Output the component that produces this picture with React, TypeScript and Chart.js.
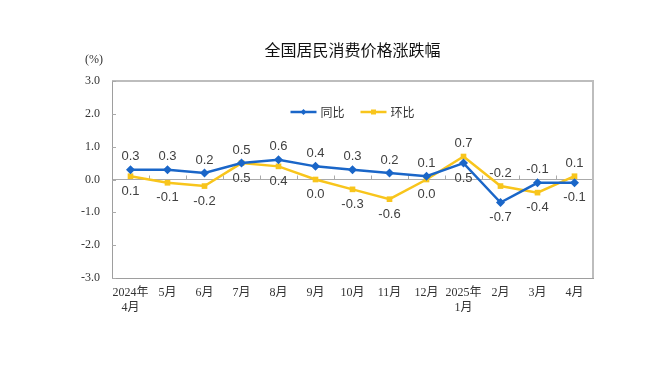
import React, { useEffect, useRef } from "react";
import { Chart, registerables } from "chart.js";

Chart.register(...registerables);

const categories: (string | string[])[] = [
  ["2024年", "4月"], "5月", "6月", "7月", "8月", "9月", "10月", "11月", "12月",
  ["2025年", "1月"], "2月", "3月", "4月",
];
const yoyValues = [0.3, 0.3, 0.2, 0.5, 0.6, 0.4, 0.3, 0.2, 0.1, 0.5, -0.7, -0.1, -0.1];
const momValues = [0.1, -0.1, -0.2, 0.5, 0.4, 0.0, -0.3, -0.6, 0.0, 0.7, -0.2, -0.4, 0.1];
const yTicks = [-3, -2, -1, 0, 1, 2, 3];
const seriesNames = ["同比", "环比"];
const titleText = "全国居民消费价格涨跌幅";
const unitText = "(%)";

const BLUE = "#1A66C8";
const YELLOW = "#F8C51C";
const SANS = "'Liberation Sans', 'Noto Sans CJK SC', sans-serif";
const SERIF = "'Liberation Serif', 'Noto Sans CJK SC', serif";
const CJK = "'Noto Sans CJK SC', sans-serif";

const decorPlugin = {
  id: "decor",
  beforeDatasetsDraw(chart: any) {
    const { ctx, chartArea, scales } = chart;
    const x = scales.x;
    const y = scales.y;
    ctx.save();
    // top & right frame
    ctx.strokeStyle = "#BDBDBD";
    ctx.lineWidth = 2;
    ctx.beginPath();
    ctx.moveTo(chartArea.left, chartArea.top);
    ctx.lineTo(chartArea.right, chartArea.top);
    ctx.lineTo(chartArea.right, chartArea.bottom);
    ctx.stroke();
    // zero line ticks at category boundaries
    const y0 = y.getPixelForValue(0);
    ctx.strokeStyle = "#AAAAAA";
    ctx.lineWidth = 1;
    ctx.beginPath();
    for (let i = 1; i < categories.length; i++) {
      const bx = Math.round((x.getPixelForValue(i - 1) + x.getPixelForValue(i)) / 2) + 0.5;
      ctx.moveTo(bx, y0);
      ctx.lineTo(bx, y0 - 4);
    }
    // inward y ticks
    yTicks.forEach((v) => {
      const py = Math.round(y.getPixelForValue(v)) + 0.5;
      ctx.moveTo(chartArea.left, py);
      ctx.lineTo(chartArea.left + 4, py);
    });
    ctx.stroke();
    // unit text
    ctx.fillStyle = "#333";
    ctx.font = `12px ${SERIF}`;
    ctx.textAlign = "center";
    ctx.textBaseline = "middle";
    ctx.fillText(unitText, chartArea.left - 18, chartArea.top - 21);
    ctx.restore();
  },
  afterDatasetsDraw(chart: any) {
    const { ctx, chartArea } = chart;
    ctx.save();
    ctx.font = `13px ${SANS}`;
    ctx.fillStyle = "#404040";
    ctx.textAlign = "center";
    ctx.textBaseline = "middle";
    const all = [yoyValues, momValues];
    chart.data.datasets.forEach((ds: any, di: number) => {
      const meta = chart.getDatasetMeta(di);
      meta.data.forEach((pt: any, i: number) => {
        const v = ds.data[i];
        const other = all[1 - di][i];
        const above = di === 0 ? v >= other : v > other;
        const ly = above ? pt.y - 13 : pt.y + 15;
        ctx.fillText(v.toFixed(1), pt.x, ly);
      });
    });
    // legend
    const itemW = 26 + 4 + 24;
    const gap = 16;
    const total = itemW * 2 + gap;
    let lx = (chartArea.left + chartArea.right) / 2 - total / 2;
    const ly = chartArea.top + 31;
    chart.data.datasets.forEach((ds: any) => {
      ctx.strokeStyle = ds.borderColor;
      ctx.lineWidth = 2.5;
      ctx.beginPath();
      ctx.moveTo(lx, ly);
      ctx.lineTo(lx + 26, ly);
      ctx.stroke();
      ctx.fillStyle = ds.borderColor;
      ctx.beginPath();
      if (ds.pointStyle === "rectRot") {
        ctx.moveTo(lx + 13, ly - 3);
        ctx.lineTo(lx + 16, ly);
        ctx.lineTo(lx + 13, ly + 3);
        ctx.lineTo(lx + 10, ly);
        ctx.closePath();
      } else {
        ctx.rect(lx + 10.5, ly - 2.5, 5, 5);
      }
      ctx.fill();
      ctx.fillStyle = "#333";
      ctx.font = `12px ${CJK}`;
      ctx.textAlign = "left";
      ctx.fillText(ds.label, lx + 30, ly);
      lx += itemW + gap;
    });
    ctx.restore();
  },
};

export default function App() {
  const ref = useRef<HTMLCanvasElement>(null);
  useEffect(() => {
    if (!ref.current) return;
    const chart = new Chart(ref.current, {
      type: "line",
      data: {
        labels: categories,
        datasets: [
          {
            label: seriesNames[0],
            data: yoyValues,
            borderColor: BLUE,
            backgroundColor: BLUE,
            borderWidth: 2.5,
            pointStyle: "rectRot",
            pointRadius: 4.5,
            pointBorderWidth: 0,
            tension: 0,
          },
          {
            label: seriesNames[1],
            data: momValues,
            borderColor: YELLOW,
            backgroundColor: YELLOW,
            borderWidth: 2.5,
            pointStyle: "rect",
            pointRadius: 4,
            pointBorderWidth: 0,
            tension: 0,
          },
        ],
      },
      options: {
        animation: false,
        responsive: true,
        maintainAspectRatio: false,
        layout: { padding: { left: 72, right: 61, top: 30, bottom: 0 } },
        plugins: {
          legend: { display: false },
          tooltip: { enabled: false },
          title: {
            display: true,
            text: titleText,
            fullSize: false,
            color: "#111",
            font: { family: CJK, size: 16, weight: "normal" },
            padding: { top: 10, bottom: 21.8 },
          },
        },
        scales: {
          x: {
            offset: true,
            grid: { display: false, drawTicks: false },
            border: { display: true, color: "#9E9E9E", width: 1 },
            ticks: {
              color: "#333",
              font: { family: SERIF, size: 12 },
              padding: 8,
              maxRotation: 0,
              autoSkip: false,
            },
            afterFit: (s: any) => {
              s.height = 88;
            },
          },
          y: {
            min: -3,
            max: 3,
            afterBuildTicks: (s: any) => {
              s.ticks = yTicks.map((v) => ({ value: v }));
            },
            grid: {
              drawTicks: false,
              color: (c: any) => (c.tick && c.tick.value === 0 ? "#AAAAAA" : "rgba(0,0,0,0)"),
              lineWidth: 1,
            },
            border: { display: true, color: "#9E9E9E", width: 1 },
            ticks: {
              color: "#333",
              font: { family: SERIF, size: 12 },
              padding: 12,
              callback: (v: any) => Number(v).toFixed(1),
            },
            afterFit: (s: any) => {
              s.width = 40;
            },
          },
        },
      },
      plugins: [decorPlugin],
    });
    return () => chart.destroy();
  }, []);
  return (
    <div style={{ position: "fixed", left: 0, top: 0, width: 654, height: 366, background: "#fff" }}>
      <canvas ref={ref} />
    </div>
  );
}
